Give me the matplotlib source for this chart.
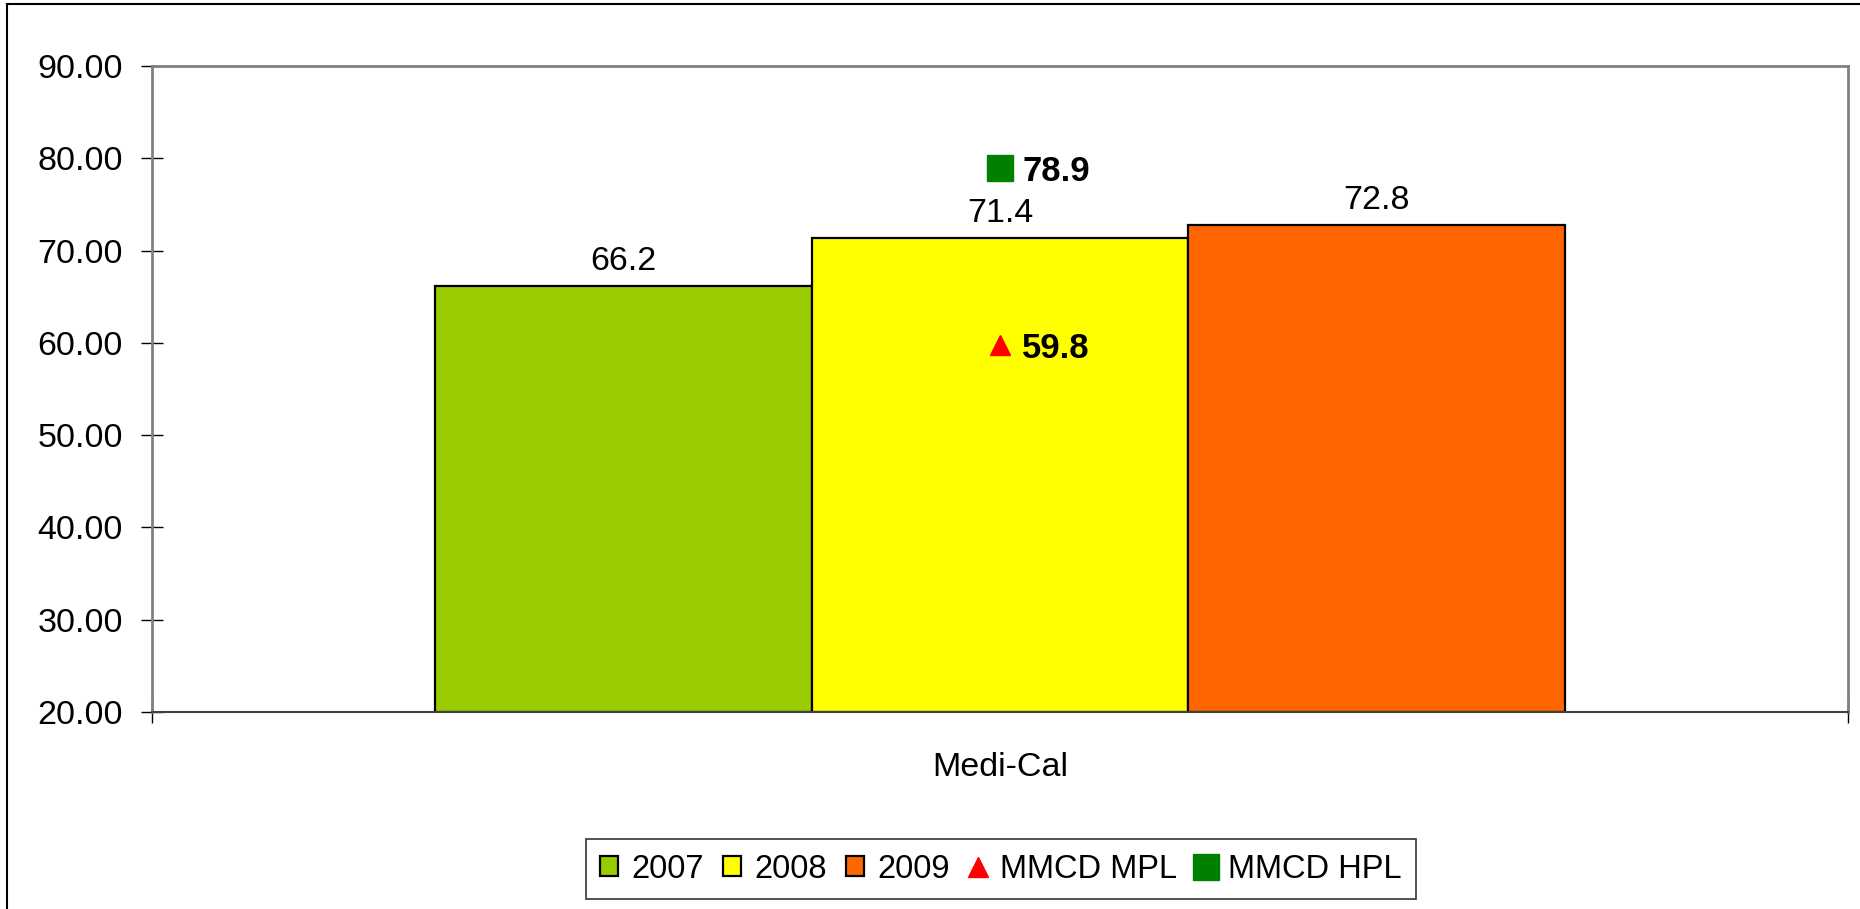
import matplotlib
matplotlib.use("Agg")
import matplotlib.pyplot as plt
from matplotlib.lines import Line2D
from matplotlib.patches import Patch

plt.rcParams["font.family"] = ["Liberation Sans", "DejaVu Sans"]

# =========================
# Data
# =========================
category = "Medi-Cal"
years = ["2007", "2008", "2009"]
rates = [66.2, 71.4, 72.8]
bar_colors = ["#99CC00", "#FFFF00", "#FF6600"]

mpl_label = "MMCD MPL"
mpl_value = 59.8
hpl_label = "MMCD HPL"
hpl_value = 78.9

y_ticks = [20, 30, 40, 50, 60, 70, 80, 90]

# =========================
# Figure
# =========================
W, H = 1860, 909
fig = plt.figure(figsize=(W / 100, H / 100), dpi=100)

# outer chart border (left and top visible)
fig.add_artist(Line2D([7 / W, 7 / W], [0, 1 - 4 / H], color="black", lw=1.5))
fig.add_artist(Line2D([7 / W, 1], [1 - 4 / H, 1 - 4 / H], color="black", lw=1.5))

ax = fig.add_axes([152 / W, 1 - 712 / H, (1848 - 152) / W, (712 - 66) / H])

fs = 24.5
w = 1 / 4.5
offsets = [-1, 0, 1]
for yr, val, col, off in zip(years, rates, bar_colors, offsets):
    ax.bar(1 + off * w, val - 20, bottom=20, width=w, color=col,
           edgecolor="black", linewidth=1.6, label=yr)
    ax.annotate(f"{val}", (1 + off * w, val), xytext=(0, 6),
                textcoords="offset points", ha="center", va="bottom",
                fontsize=fs)

ax.plot([1], [mpl_value], marker="^", color="#FF0000", markersize=15,
        linestyle="none", zorder=5)
ax.annotate(f"{mpl_value}", (1, mpl_value), xytext=(16, 0),
            textcoords="offset points", ha="left", va="center_baseline",
            fontsize=25, fontweight="bold")
ax.plot([1], [hpl_value], marker="s", color="#008000", markersize=19,
        linestyle="none", zorder=5)
ax.annotate(f"{hpl_value}", (1, hpl_value), xytext=(16, 0),
            textcoords="offset points", ha="left", va="center_baseline",
            fontsize=25, fontweight="bold")

ax.set_xlim(0.5, 1.5)
ax.set_ylim(20, 90)
ax.set_yticks(y_ticks)
ax.set_yticklabels([f"{t:.2f}" for t in y_ticks], fontsize=fs)
ax.tick_params(axis="y", direction="inout", length=16, width=1, pad=13)

ax.set_xticks([0.5, 1.5])
ax.set_xticklabels(["", ""])
ax.tick_params(axis="x", which="major", direction="inout", length=16, width=1)
ax.set_xticks([1], labels=[category], minor=True)
ax.tick_params(axis="x", which="minor", length=0, pad=29, labelsize=fs)

for side in ["left", "top", "right"]:
    ax.spines[side].set_color("#808080")
    ax.spines[side].set_linewidth(2)
ax.spines["bottom"].set_color("#404040")
ax.spines["bottom"].set_linewidth(1.5)

# =========================
# Legend
# =========================
handles = [Patch(facecolor=c, edgecolor="black", linewidth=1.6) for c in bar_colors]
handles.append(Line2D([], [], marker="^", color="#FF0000", markersize=15, linestyle="none"))
handles.append(Line2D([], [], marker="s", color="#008000", markersize=19, linestyle="none"))
labels = years + [mpl_label, hpl_label]

leg = fig.legend(handles, labels, loc="center",
                 bbox_to_anchor=(1001 / W, 1 - 869 / H), ncol=5,
                 fontsize=23.5, frameon=True, fancybox=False, shadow=False,
                 handlelength=0.55, handleheight=0.55, handletextpad=0.4,
                 columnspacing=0.6, borderpad=0.45, borderaxespad=0)
leg.get_frame().set_edgecolor("black")
leg.get_frame().set_linewidth(1.2)

fig.savefig("out.png", dpi=100)
